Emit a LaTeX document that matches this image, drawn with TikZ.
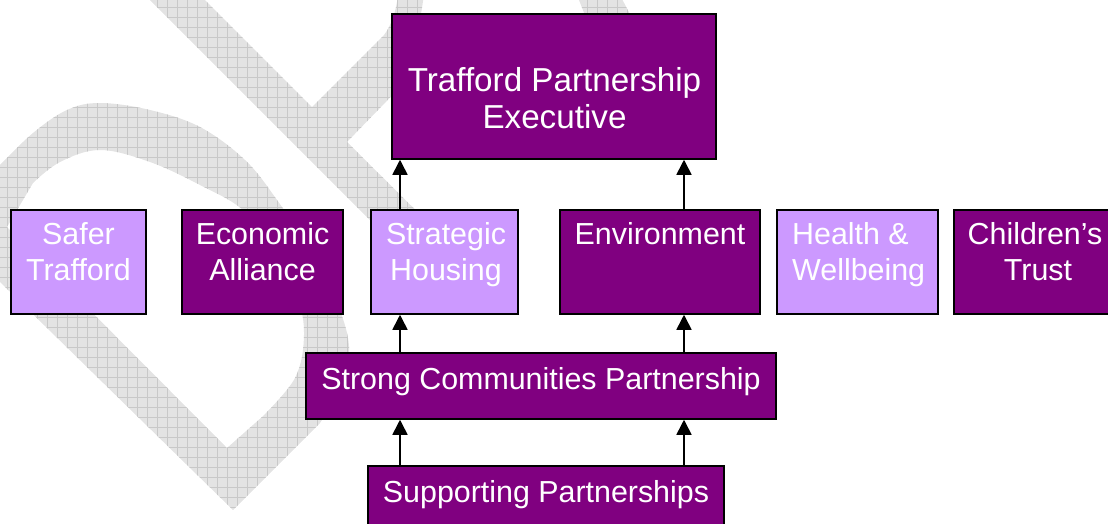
\documentclass[tikz,border=0pt]{standalone}
\usepackage{fontspec}
\setmainfont{Liberation Sans}
\usetikzlibrary{arrows.meta}
\definecolor{dpurple}{HTML}{800080}
\definecolor{lpurple}{HTML}{CC99FF}
\definecolor{wmfill}{HTML}{E3E3E3}
\definecolor{wmgrid}{HTML}{C8C8C8}
\newcommand\wmD{(-50,233) -- plot[smooth,tension=0.6] coordinates {(0,165) (33,133) (67,110) (100,103) (150,110) (200,127) (245,160) (277,200) (318,262) (347,333) (344,378) (320,423)} -- (233,510) -- cycle
 (7,227) -- plot[smooth,tension=0.6] coordinates {(33,183) (60,162) (100,150) (150,162) (200,185) (243,210) (275,250) (297,295) (304,335) (295,378) (262,417)} -- (227,448) -- cycle}
\newcommand\wmR{(145,-5) -- (446,296) -- (474,268) -- (347,142) -- (410,77) -- (440,40) -- (421,14) -- (424,-5) -- cycle
 (200,-5) -- (312,107) -- (384,35) .. controls (391,26) and (396,12) .. (398,-5) -- cycle}
\newcommand\wmA{(577,-5) -- (620,-5) -- (637,28) -- (590,28) -- cycle}
\begin{document}
\begin{tikzpicture}[x=1pt,y=-1pt,
  pbox/.style={draw=black, line width=1.5pt, inner sep=0pt},
  dark/.style={pbox, fill=dpurple},
  light/.style={pbox, fill=lpurple},
  txt/.style={text=white, inner sep=0pt, anchor=base, font=\fontsize{30.4}{36}\selectfont},
  bigtxt/.style={txt, font=\fontsize{33.2}{40}\selectfont},
  arr/.style={line width=1.6pt, -{Triangle[width=15pt,length=15pt]}},
  gridline/.style={draw=wmgrid, line width=0.6pt}]
\useasboundingbox (0,0) rectangle (1108,523);
\clip (0,0) rectangle (1108,523);
\fill[wmfill, even odd rule] \wmD \wmR \wmA;
\begin{scope}[even odd rule]
  \clip \wmD \wmR \wmA;
  \foreach \gx in {-3,7,...,657} \draw[gridline] (\gx,-5) -- (\gx,530);
  \foreach \gy in {7,17,...,527} \draw[gridline] (-10,\gy) -- (660,\gy);
\end{scope}
% boxes
\node[dark, minimum width=324pt, minimum height=145pt] (tpe) at (554,86.5) {};
\node[light, minimum width=135pt, minimum height=104pt] (safer) at (78.5,262) {};
\node[dark, minimum width=161pt, minimum height=104pt] (econ) at (262.5,262) {};
\node[light, minimum width=147pt, minimum height=104pt] (sh) at (444.5,262) {};
\node[dark, minimum width=200pt, minimum height=104pt] (env) at (660,262) {};
\node[light, minimum width=161pt, minimum height=104pt] (hw) at (857.5,262) {};
\node[dark, minimum width=164pt, minimum height=104pt] (ct) at (1036,262) {};
\node[dark, minimum width=470pt, minimum height=66pt] (scp) at (541,386) {};
\node[dark, minimum width=356pt, minimum height=70pt] (sp) at (546,501) {};
% texts
\node[bigtxt] (tpeA) at (554.5,91) {Trafford Partnership};
\node[bigtxt] (tpeB) at (554.5,128) {Executive};
\node[txt] (saferA) at (78.5,244) {Safer};
\node[txt] (saferB) at (78.5,280) {Trafford};
\node[txt] (econA) at (262.5,244) {Economic};
\node[txt] (econB) at (262.5,280) {Alliance};
\node[txt] (shA) at (446,244) {Strategic};
\node[txt] (shB) at (446,280) {Housing};
\node[txt] (envA) at (660,244) {Environment};
\node[txt, anchor=base west] (hwA) at (792,244) {Health \&};
\node[txt, anchor=base west] (hwB) at (792,280) {Wellbeing};
\node[txt] (ctA) at (1035,244) {Children’s};
\node[txt] (ctB) at (1038,280) {Trust};
\node[txt] (scpA) at (541,389) {Strong Communities Partnership};
\node[txt] (spA) at (546,502) {Supporting Partnerships};
% connectors
\coordinate (xL) at (400,0);
\coordinate (xR) at (684,0);
\draw[arr] (sh.north -| xL) -- (tpe.south -| xL);
\draw[arr] (env.north -| xR) -- (tpe.south -| xR);
\draw[arr] (scp.north -| xL) -- (sh.south -| xL);
\draw[arr] (scp.north -| xR) -- (env.south -| xR);
\draw[arr] (sp.north -| xL) -- (scp.south -| xL);
\draw[arr] (sp.north -| xR) -- (scp.south -| xR);
\end{tikzpicture}
\end{document}
